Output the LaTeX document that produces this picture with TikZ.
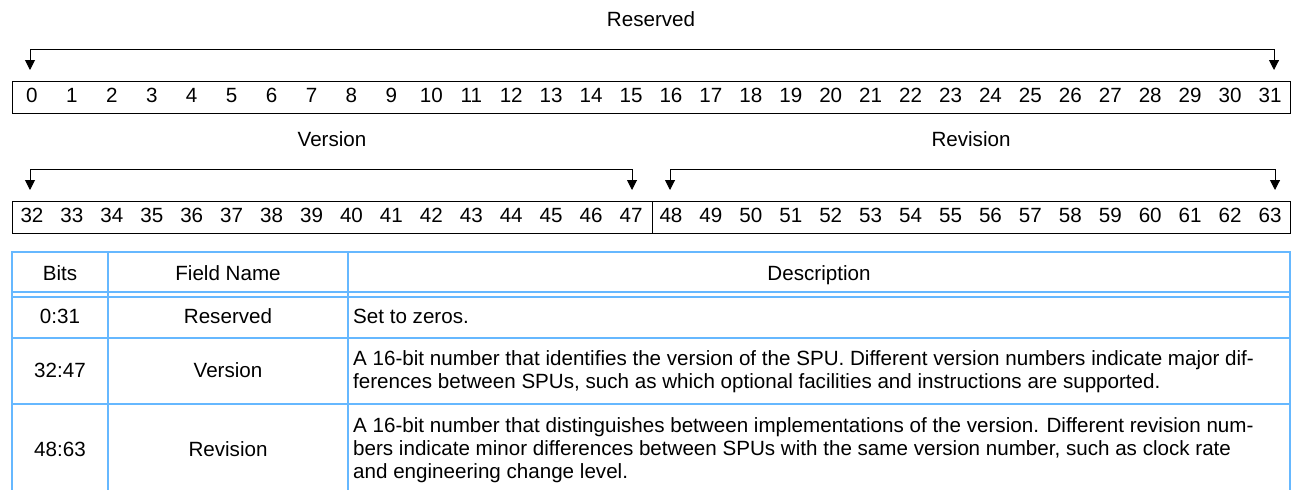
\documentclass[tikz,border=0pt]{standalone}
\usepackage{fontspec}
\setmainfont{Liberation Sans}
\usetikzlibrary{arrows.meta}
\definecolor{tblue}{RGB}{102,184,255}
\tikzset{
  txt/.style={inner sep=0pt, anchor=base, font=\fontsize{20.6}{23.3}\selectfont},
  ltxt/.style={inner sep=0pt, anchor=base west, align=left, font=\fontsize{20.6}{23.3}\selectfont},
  bitbox/.style={draw=black, line width=1pt},
  bracket/.style={draw=black, line width=1pt, {Triangle[length=10pt,width=10pt]}-{Triangle[length=10pt,width=10pt]}},
  grid/.style={draw=tblue, line width=2pt}
}
\begin{document}
\begin{tikzpicture}[x=1pt,y=-1pt]
\useasboundingbox (0,0) rectangle (1292,490);
% ---- row 1
\node[txt] (lres) at (651,26.7) {Reserved};
\draw[bitbox] (12,81) rectangle (1290,113);
\foreach \i in {0,...,31}{
  \node[txt] (b\i) at ({12+(\i+0.5)*39.9375},102.7) {\i};
}
\coordinate (t0) at (30,70);
\coordinate (t31) at (1274,70);
\coordinate (top1) at (651,49.3);
\draw[bracket] (t0) -- (t0 |- top1) -- (t31 |- top1) -- (t31);
% ---- row 2
\node[txt] (lver) at (332,146.7) {Version};
\node[txt] (lrev) at (971,146.7) {Revision};
\draw[bitbox] (12,201) rectangle (1290,233);
\draw[bitbox] (652,201) -- (652,233);
\foreach \i in {32,...,63}{
  \node[txt] (b\i) at ({12+(\i-32+0.5)*39.9375},222.7) {\i};
}
\coordinate (t32) at (30,190);
\coordinate (t47) at (632,190);
\coordinate (t48) at (670,190);
\coordinate (t63) at (1275,190);
\coordinate (top2) at (651,169.3);
\draw[bracket] (t32) -- (t32 |- top2) -- (t47 |- top2) -- (t47);
\draw[bracket] (t48) -- (t48 |- top2) -- (t63 |- top2) -- (t63);
% ---- table
\draw[grid] (12,252) -- (1290,252);
\draw[grid] (12,292) -- (1290,292);
\draw[grid] (12,297) -- (1290,297);
\draw[grid] (12,338) -- (1290,338);
\draw[grid] (12,404) -- (1290,404);
\foreach \x in {12,108,348,1290}{
  \draw[grid] (\x,251) -- (\x,490);
}
\node[txt] (hb) at (60,280.7) {Bits};
\node[txt] (hf) at (228,280.7) {Field Name};
\node[txt] (hd) at (819,280.7) {Description};
\node[txt] (r1b) at (60,323.3) {0:31};
\node[txt] (r1f) at (228,323.3) {Reserved};
\node[ltxt] (r1d) at (353,323.3) {Set to zeros.};
\node[txt] (r2b) at (60,377) {32:47};
\node[txt] (r2f) at (228,377) {Version};
\node[ltxt] (r2d) at (353,388.3) {A 16-bit number that identifies the version of the SPU. Different version numbers indicate major dif-\\ferences between SPUs, such as which optional facilities and instructions are supported.};
\node[txt] (r3b) at (60,456.7) {48:63};
\node[txt] (r3f) at (228,456.7) {Revision};
\node[ltxt] (r3d) at (353,478.6) {A 16-bit number that distinguishes between implementations of the version. Different revision num-\\bers indicate minor differences between SPUs with the same version number, such as clock rate\\and engineering change level.};
\end{tikzpicture}
\end{document}
